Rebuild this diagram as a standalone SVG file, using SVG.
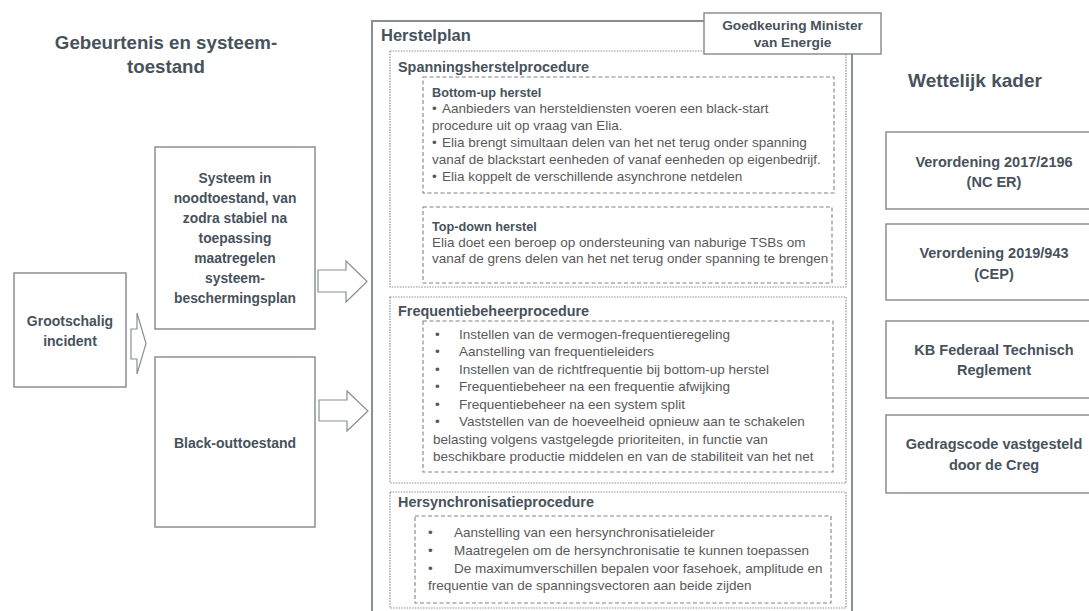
<svg xmlns="http://www.w3.org/2000/svg" width="1089" height="611" viewBox="0 0 1089 611">
<style>
text{font-family:"Liberation Sans",Arial,sans-serif}
.h{font-weight:bold;fill:#47525c}
.b{fill:#595959;font-size:13.5px}
.box{fill:#fff;stroke:#8a8f94;stroke-width:1.5}
.outer{fill:none;stroke:#8a8f94;stroke-width:2}
.dot{fill:none;stroke:#8a8f94;stroke-width:1.2;stroke-dasharray:1.5 1.2}
.dash{fill:none;stroke:#7f8488;stroke-width:1.1;stroke-dasharray:4 2.5}
.arr{fill:#fff;stroke:#8a8f94;stroke-width:1.2}
.c{text-anchor:middle}
</style>
<rect width="1089" height="611" fill="#fff"/>

<g id="title-left">
<text class="h c" x="166" y="49" font-size="18.7">Gebeurtenis en systeem-</text>
<text class="h c" x="166" y="73" font-size="18.7">toestand</text>
</g>
<g id="title-right">
<text class="h c" x="975" y="87" font-size="19">Wettelijk kader</text>
</g>

<g id="incident">
<rect class="box" x="14" y="273" width="112" height="114"/>
<text class="h c" x="70" y="326" font-size="14">Grootschalig</text>
<text class="h c" x="70" y="346" font-size="14">incident</text>
</g>

<g id="noodtoestand">
<rect class="box" x="155" y="147" width="160" height="182"/>
<g class="h c" font-size="13.8">
<text x="235" y="183">Systeem in</text>
<text x="235" y="203">noodtoestand, van</text>
<text x="235" y="223">zodra stabiel na</text>
<text x="235" y="243">toepassing</text>
<text x="235" y="263">maatregelen</text>
<text x="235" y="283">systeem-</text>
<text x="235" y="303">beschermingsplan</text>
</g>
</g>

<g id="blackout">
<rect class="box" x="155" y="357" width="160" height="170"/>
<text class="h c" x="235" y="448" font-size="14">Black-outtoestand</text>
</g>

<g id="connectors">
<polygon class="arr" points="131,329 137,329 137,313 146,343.5 137,374 137,359 131,359"/>
<polygon class="arr" points="318,270 346,270 346,261 367,281.5 346,302 346,292 318,292"/>
<polygon class="arr" points="319,400 347,400 347,391 368,411 347,431 347,421 319,421"/>
</g>

<g id="herstelplan">
<rect class="outer" x="372" y="21" width="480" height="600"/>
<text class="h" x="381" y="41" font-size="16.5">Herstelplan</text>
</g>

<g id="spanningsherstel">
<rect class="dot" x="390" y="51" width="456" height="236"/>
<text class="h" x="398" y="72" font-size="14.4">Spanningsherstelprocedure</text>
</g>

<g id="bottom-up">
<rect class="dash" x="423" y="77" width="411" height="116"/>
<text class="h" x="432" y="97" font-size="12.7">Bottom-up herstel</text>
<g class="b">
<text x="432" y="113">•</text><text x="442" y="113">Aanbieders van hersteldiensten voeren een black-start</text>
<text x="432" y="130">procedure uit op vraag van Elia.</text>
<text x="432" y="147">•</text><text x="442" y="147">Elia brengt simultaan delen van het net terug onder spanning</text>
<text x="432" y="164">vanaf de blackstart eenheden of vanaf eenheden op eigenbedrijf.</text>
<text x="432" y="181">•</text><text x="442" y="181">Elia koppelt de verschillende asynchrone netdelen</text>
</g>
</g>

<g id="top-down">
<rect class="dash" x="423" y="207" width="409" height="76"/>
<text class="h" x="432" y="231" font-size="12.7">Top-down herstel</text>
<g class="b">
<text x="432" y="247">Elia doet een beroep op ondersteuning van naburige TSBs om</text>
<text x="432" y="263">vanaf de grens delen van het net terug onder spanning te brengen</text>
</g>
</g>

<g id="frequentiebeheer">
<rect class="dot" x="390" y="297" width="456" height="186"/>
<text class="h" x="398" y="316" font-size="14.4">Frequentiebeheerprocedure</text>
<rect class="dash" x="423" y="321" width="410" height="151"/>
<g class="b">
<text x="435" y="338.5">•</text><text x="459" y="338.5">Instellen van de vermogen-frequentieregeling</text>
<text x="435" y="356">•</text><text x="459" y="356">Aanstelling van frequentieleiders</text>
<text x="435" y="373.5">•</text><text x="459" y="373.5">Instellen van de richtfrequentie bij bottom-up herstel</text>
<text x="435" y="391">•</text><text x="459" y="391">Frequentiebeheer na een frequentie afwijking</text>
<text x="435" y="408.5">•</text><text x="459" y="408.5">Frequentiebeheer na een system split</text>
<text x="435" y="426">•</text><text x="459" y="426">Vaststellen van de hoeveelheid opnieuw aan te schakelen</text>
<text x="433" y="443.5">belasting volgens vastgelegde prioriteiten, in functie van</text>
<text x="433" y="461">beschikbare productie middelen en van de stabiliteit van het net</text>
</g>
</g>

<g id="hersynchronisatie">
<rect class="dot" x="390" y="492" width="456" height="116"/>
<text class="h" x="398" y="507" font-size="14.4">Hersynchronisatieprocedure</text>
<rect class="dash" x="415" y="516" width="416" height="87"/>
<g class="b">
<text x="428" y="537">•</text><text x="454" y="537">Aanstelling van een hersynchronisatieleider</text>
<text x="428" y="555">•</text><text x="454" y="555">Maatregelen om de hersynchronisatie te kunnen toepassen</text>
<text x="428" y="573">•</text><text x="454" y="573">De maximumverschillen bepalen voor fasehoek, amplitude en</text>
<text x="428" y="590">frequentie van de spanningsvectoren aan beide zijden</text>
</g>
</g>

<g id="goedkeuring">
<rect class="box" x="704" y="13" width="177" height="41"/>
<text class="h c" x="792.5" y="30" font-size="13.7">Goedkeuring Minister</text>
<text class="h c" x="792.5" y="47" font-size="13.7">van Energie</text>
</g>

<g id="verordening-2017">
<rect class="box" x="886" y="132" width="210" height="77"/>
<text class="h c" x="994" y="167" font-size="14.5">Verordening 2017/2196</text>
<text class="h c" x="994" y="187" font-size="14.5">(NC ER)</text>
</g>
<g id="verordening-2019">
<rect class="box" x="886" y="224" width="210" height="76"/>
<text class="h c" x="994" y="258" font-size="14.5">Verordening 2019/943</text>
<text class="h c" x="994" y="279" font-size="14.5">(CEP)</text>
</g>
<g id="kb-ftr">
<rect class="box" x="886" y="321" width="210" height="77"/>
<text class="h c" x="994" y="355" font-size="14.5">KB Federaal Technisch</text>
<text class="h c" x="994" y="375" font-size="14.5">Reglement</text>
</g>
<g id="gedragscode">
<rect class="box" x="886" y="415" width="210" height="78"/>
<text class="h c" x="994" y="449" font-size="14.5">Gedragscode vastgesteld</text>
<text class="h c" x="994" y="470" font-size="14.5">door de Creg</text>
</g>
</svg>
